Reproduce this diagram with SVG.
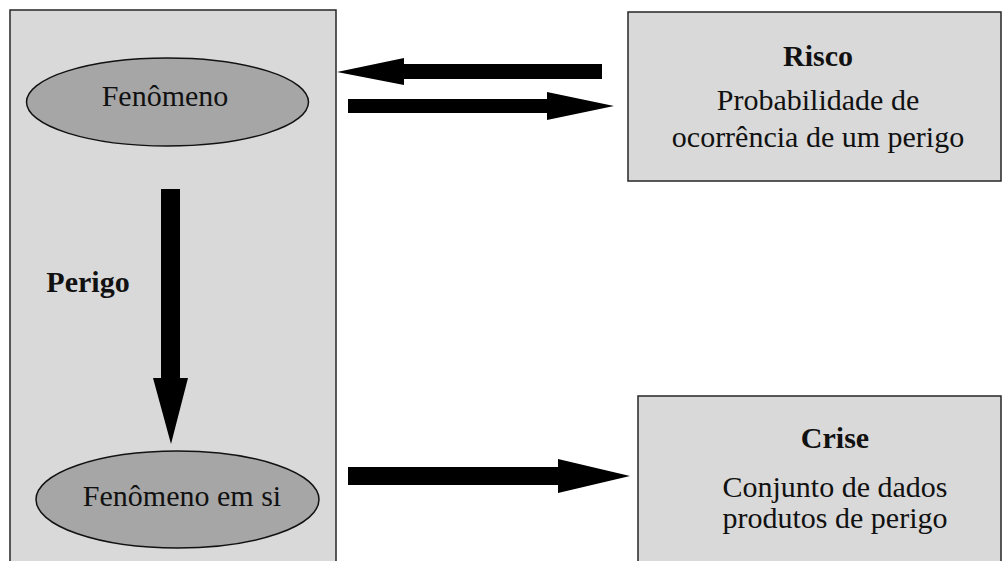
<svg xmlns="http://www.w3.org/2000/svg" width="1003" height="561" viewBox="0 0 1003 561">
<style>
.panel{fill:#d9d9d9;stroke:#262626;stroke-width:1.5}
.ell{fill:#a6a6a6;stroke:#111;stroke-width:1.5}
.t{font-family:"Liberation Serif","Times New Roman",serif;font-size:30px;fill:#111;text-anchor:middle}
.b{font-weight:bold}
.arr{fill:#000}
</style>
<rect width="1003" height="561" fill="#fff"/>
<g id="panel-left">
<rect class="panel" x="10" y="10" width="326" height="580"/>
</g>
<g id="node-fenomeno">
<ellipse class="ell" cx="167.5" cy="102" rx="141" ry="44"/>
<text class="t" x="165" y="106">Fenômeno</text>
</g>
<g id="node-fenomeno-em-si">
<ellipse class="ell" cx="177.5" cy="499.5" rx="141.5" ry="48.5"/>
<text class="t" x="182" y="506">Fenômeno em si</text>
</g>
<g id="label-perigo">
<text class="t b" x="88" y="292">Perigo</text>
</g>
<g id="node-risco">
<rect class="panel" x="628" y="12" width="373" height="169"/>
<text class="t b" x="818" y="66">Risco</text>
<text class="t" x="818" y="110">Probabilidade de</text>
<text class="t" x="818" y="147">ocorrência de um perigo</text>
</g>
<g id="node-crise">
<rect class="panel" x="638" y="396" width="363" height="190"/>
<text class="t b" x="835" y="448">Crise</text>
<text class="t" x="835" y="497">Conjunto de dados</text>
<text class="t" x="835" y="528">produtos de perigo</text>
</g>
<g id="connectors">
<polygon class="arr" points="602,64 404,64 404,58 337,72 404,85 404,79 602,79"/>
<polygon class="arr" points="348,99 547,99 547,92 614,106 547,120 547,113 348,113"/>
<polygon class="arr" points="161,189 180,189 180,378 188,378 171,444 153,378 161,378"/>
<polygon class="arr" points="348,467 558,467 558,459 630,476 558,493 558,485 348,485"/>
</g>
</svg>
